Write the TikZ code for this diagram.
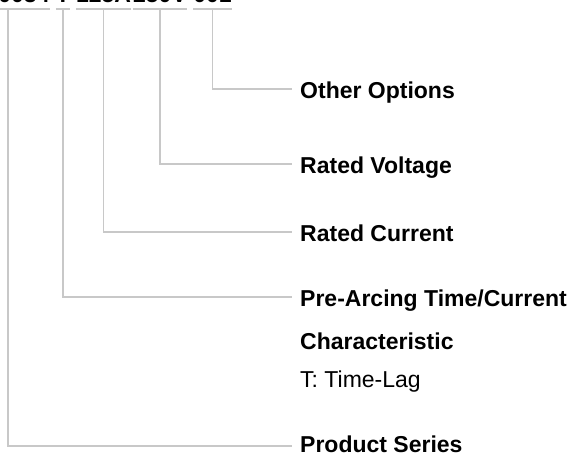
\documentclass[tikz,border=0pt]{standalone}
\usepackage{fontspec}
\setmainfont{Liberation Sans}
\usepackage{tikz}
\usetikzlibrary{positioning, calc}
\definecolor{leadgrey}{HTML}{C8C8C8}

\begin{document}
\begin{tikzpicture}[
    x=1pt, y=-1pt,
    codepart/.style={font=\fontsize{23}{27}\selectfont\bfseries, inner sep=0pt, text depth=6.5pt, anchor=south},
    fieldname/.style={font=\fontsize{23}{27}\selectfont\bfseries, anchor=west, inner xsep=8pt, inner ysep=0pt, text height=19pt, text depth=0pt},
    fieldnote/.style={fieldname, font=\fontsize{23}{27}\selectfont},
    lead/.style={draw=leadgrey, line width=1.5pt},
]
    \useasboundingbox (0,0) rectangle (582,455);

    % Order code (cut at the top edge)
    \node[codepart] (series) at (24, 9) {0034};
    \node[codepart] (char) at (63, 9) {T};
    \node[codepart] (current) at (103.5, 9) {125A};
    \node[codepart] (voltage) at (160, 9) {250V};
    \node[codepart] (options) at (212.5, 9) {001};

    % Field names
    \node[fieldname] (l-options) at (292, 89) {Other Options};
    \node[fieldname] (l-voltage) at (292, 164) {Rated Voltage};
    \node[fieldname] (l-current) at (292, 232) {Rated Current};
    \node[fieldname] (l-char) at (292, 297) {Pre-Arcing Time/Current};
    \node[fieldname] (l-char2) at (292, 339.5) {Characteristic};
    \node[fieldnote] (l-lag) at (292, 377.5) {T: Time-Lag};
    \node[fieldname, text height=12pt] (l-series) at (292, 446) {Product Series};

    % Underlines
    \foreach \n in {series, char, current, voltage, options}
        \draw[lead] (\n.south west) -- (\n.south east);

    % Leads
    \draw[lead] (series.south west) ++(10,0) |- (l-series.west);
    \draw[lead] (char.south) |- (l-char.west);
    \draw[lead] (current.south) |- (l-current.west);
    \draw[lead] (voltage.south) |- (l-voltage.west);
    \draw[lead] (options.south) |- (l-options.west);

\end{tikzpicture}
\end{document}
